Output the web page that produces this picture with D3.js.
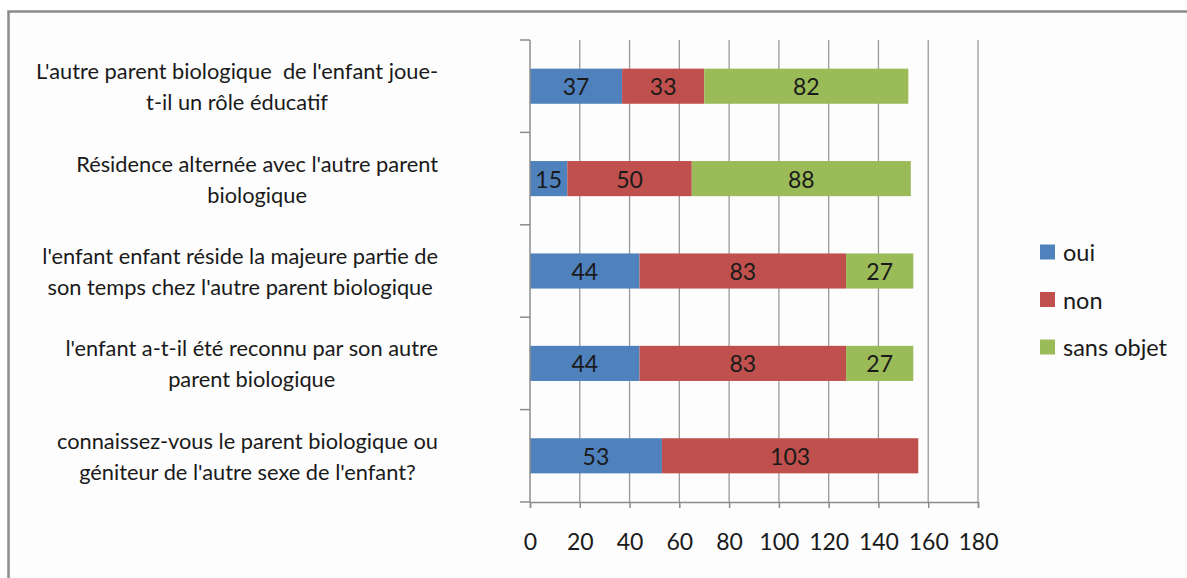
<!DOCTYPE html>
<html>
<head>
<meta charset="utf-8">
<script src="https://cdn.jsdelivr.net/npm/d3@7"></script>
<style>
  body { margin: 0; background: #fff; }
  svg { display: block; font-family: Lato, "Open Sans", sans-serif; }
</style>
</head>
<body>
<svg id="chart"></svg>
<script>
//define data
const categories = [
  ["L'autre parent biologique  de l'enfant joue-", "t-il un rôle éducatif"],
  ["Résidence alternée avec l'autre parent", "biologique"],
  ["l'enfant enfant réside la majeure partie de", "son temps chez l'autre parent biologique"],
  ["l'enfant a-t-il été reconnu par son autre", "parent biologique"],
  ["connaissez-vous le parent biologique ou", "géniteur de l'autre sexe de l'enfant?"]
];
const oui = [37, 15, 44, 44, 53];
const non = [33, 50, 83, 83, 103];
const sansObjet = [82, 88, 27, 27, 0];
const seriesNames = ['oui', 'non', 'sans objet'];
const colors = ['#4F81BD', '#C0504D', '#9BBB59'];
const xTicks = [0, 20, 40, 60, 80, 100, 120, 140, 160, 180];

//define constants
const svgWidth = 1187;
const svgHeight = 578;
const plotLeft = 530, plotRight = 978, plotTop = 40, plotBottom = 502;
const labelRight = 438;

var svg = d3.select('#chart')
  .attr('width', svgWidth)
  .attr('height', svgHeight);

//background + border (only top and left visible)
svg.append('rect')
  .attr('x', 0).attr('y', 0).attr('width', svgWidth).attr('height', svgHeight)
  .attr('fill', '#ffffff');
svg.append('rect')
  .attr('x', 8.5).attr('y', 11.5).attr('width', svgWidth + 20).attr('height', svgHeight + 20)
  .attr('fill', '#fdfdfd')
  .attr('stroke', '#8c8c8c')
  .attr('stroke-width', 2.5);

//scales
var xScale = d3.scaleLinear().domain([0, 180]).range([plotLeft, plotRight]);
var yScale = d3.scaleBand()
  .domain(d3.range(categories.length))
  .range([plotTop, plotBottom])
  .paddingInner(0.62)
  .paddingOuter(0.31);

//gridlines
svg.append('g')
  .selectAll('line')
  .data(xTicks.slice(1))
  .enter()
  .append('line')
    .attr('x1', d => xScale(d)).attr('x2', d => xScale(d))
    .attr('y1', plotTop).attr('y2', plotBottom)
    .attr('stroke', '#9a9a9a')
    .attr('stroke-width', 1.3);

//stack data
var rows = categories.map((c, i) => ({i: i, oui: oui[i], non: non[i], 'sans objet': sansObjet[i]}));
var stack = d3.stack().keys(seriesNames)(rows);

var layers = svg.selectAll('.layer')
  .data(stack)
  .enter()
  .append('g')
    .classed('layer', true)
    .attr('fill', (d, i) => colors[i]);

layers.selectAll('rect')
  .data(d => d.filter(s => s[1] - s[0] > 0))
  .enter()
  .append('rect')
    .attr('x', d => xScale(d[0]))
    .attr('y', d => yScale(d.data.i))
    .attr('width', d => xScale(d[1]) - xScale(d[0]))
    .attr('height', yScale.bandwidth());

layers.selectAll('text')
  .data(d => d.filter(s => s[1] - s[0] > 0))
  .enter()
  .append('text')
    .text(d => d[1] - d[0])
    .attr('x', d => (xScale(d[0]) + xScale(d[1])) / 2)
    .attr('y', d => yScale(d.data.i) + yScale.bandwidth() / 2)
    .attr('text-anchor', 'middle')
    .attr('dominant-baseline', 'central')
    .attr('fill', '#1a1a1a')
    .style('font-size', '23px');

//y axis line with ticks at band boundaries
var yAxisG = svg.append('g');
yAxisG.append('line')
  .attr('x1', plotLeft).attr('x2', plotLeft)
  .attr('y1', plotTop).attr('y2', plotBottom)
  .attr('stroke', '#8c8c8c').attr('stroke-width', 1.5);
var step = (plotBottom - plotTop) / categories.length;
yAxisG.selectAll('.ytick')
  .data(d3.range(categories.length + 1))
  .enter()
  .append('line')
    .attr('x1', plotLeft - 10).attr('x2', plotLeft)
    .attr('y1', d => plotTop + d * step).attr('y2', d => plotTop + d * step)
    .attr('stroke', '#8c8c8c').attr('stroke-width', 1.5);

//x axis
var xAxis = d3.axisBottom(xScale)
  .tickValues(xTicks)
  .tickSize(6)
  .tickPadding(26);
var xAxisG = svg.append('g')
  .attr('transform', `translate(0, ${plotBottom})`)
  .call(xAxis);
xAxisG.select('.domain').attr('stroke', '#8c8c8c').attr('stroke-width', 1.5);
xAxisG.selectAll('.tick line').attr('stroke', '#8c8c8c').attr('stroke-width', 1.5);
xAxisG.selectAll('.tick text')
  .attr('fill', '#1a1a1a')
  .style('font-size', '23px')
  .style('font-family', 'Lato, "Open Sans", sans-serif');

//category labels (block right-aligned, lines centered)
var labels = svg.selectAll('.cat')
  .data(categories)
  .enter()
  .append('text')
    .classed('cat', true)
    .attr('fill', '#1a1a1a')
    .style('white-space', 'pre')
    .style('font-size', '21.8px');
labels.each(function(lines, i) {
  var t = d3.select(this);
  var cy = yScale(i) + yScale.bandwidth() / 2;
  lines.forEach((line, k) => {
    t.append('tspan')
      .text(line)
      .attr('y', cy + (k - (lines.length - 1) / 2) * 31)
      .attr('dominant-baseline', 'central');
  });
  var maxW = 0;
  t.selectAll('tspan').each(function() {
    maxW = Math.max(maxW, this.getComputedTextLength());
  });
  t.selectAll('tspan')
    .attr('x', labelRight - maxW / 2)
    .attr('text-anchor', 'middle');
});

//legend
var legend = svg.selectAll('.legend')
  .data(seriesNames)
  .enter()
  .append('g')
    .classed('legend', true)
    .attr('transform', (d, i) => `translate(1040, ${252 + i * 47.5})`);
legend.append('rect')
  .attr('x', 0).attr('y', -7.5)
  .attr('width', 15).attr('height', 15)
  .attr('fill', (d, i) => colors[i]);
legend.append('text')
  .text(d => d)
  .attr('x', 23)
  .attr('y', 0)
  .attr('dominant-baseline', 'central')
  .attr('fill', '#1a1a1a')
  .style('font-size', '23.5px');
</script>
</body>
</html>
